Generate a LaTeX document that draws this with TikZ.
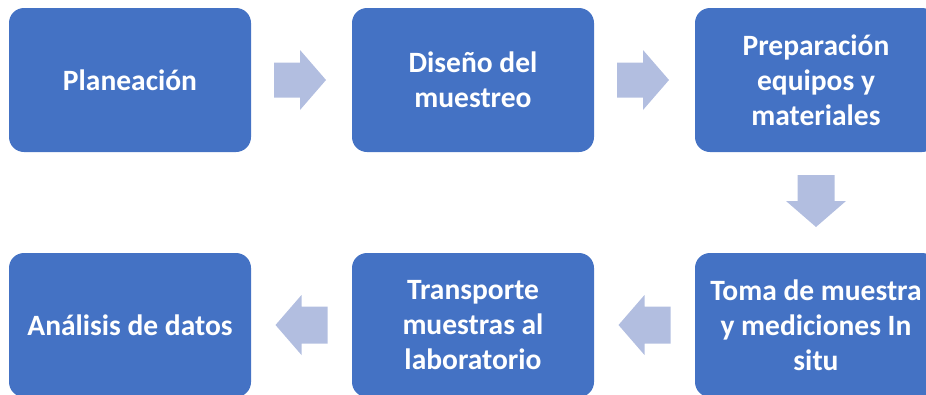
\documentclass[tikz,border=0pt]{standalone}
\usepackage{fontspec}
\setmainfont{Carlito}
\usetikzlibrary{calc}
\definecolor{boxblue}{RGB}{68,114,196}
\definecolor{arrowblue}{RGB}{178,190,224}
\tikzset{
  stepbox/.style={rectangle, rounded corners=15pt, fill=boxblue, draw=none,
    minimum width=242pt, minimum height=144pt, align=center, text=white,
    font=\fontsize{29.5}{35}\selectfont\bfseries, inner sep=2pt},
  rarrow/.pic={\fill[arrowblue] (-26pt,-17.5pt) -- (0pt,-17.5pt) -- (0pt,-30pt) -- (26pt,0pt) -- (0pt,30pt) -- (0pt,17.5pt) -- (-26pt,17.5pt) -- cycle;},
  larrow/.pic={\fill[arrowblue] (26pt,-18.5pt) -- (0pt,-18.5pt) -- (0pt,-30pt) -- (-26pt,0pt) -- (0pt,30pt) -- (0pt,18.5pt) -- (26pt,18.5pt) -- cycle;},
  darrow/.pic={\fill[arrowblue] (-18.5pt,26pt) -- (-18.5pt,0pt) -- (-30pt,0pt) -- (0pt,-26pt) -- (30pt,0pt) -- (18.5pt,0pt) -- (18.5pt,26pt) -- cycle;}
}
\begin{document}
\begin{tikzpicture}[x=1pt,y=-1pt]
\useasboundingbox (0,0) rectangle (926,394);
\clip (0,0) rectangle (926,394);
\node[stepbox] (b1) at (130,80) {Planeación};
\node[stepbox] (b2) at (473,80) {Diseño del\\muestreo};
\node[stepbox] (b3) at (816,80) {Preparación\\equipos y\\materiales};
\node[stepbox] (b4) at (816,325) {Toma de muestra\\y mediciones In\\situ};
\node[stepbox] (b5) at (473,325) {Transporte\\muestras al\\laboratorio};
\node[stepbox] (b6) at (130,325) {Análisis de datos};
\coordinate (a1) at ($(b1.east)!0.5!(b2.west)$);
\coordinate (a2) at ($(b2.east)!0.5!(b3.west)$);
\coordinate (a3) at ($(b3.south)!0.5!(b4.north)$);
\coordinate (a4) at ($(b4.west)!0.5!(b5.east)$);
\coordinate (a5) at ($(b5.west)!0.5!(b6.east)$);
\pic at ([xshift=-1.5pt]a1) {rarrow};
\pic at ([xshift=-1.5pt]a2) {rarrow};
\pic at ([yshift=1.5pt]a3) {darrow};
\pic at (a4) {larrow};
\pic at (a5) {larrow};
\end{tikzpicture}
\end{document}
